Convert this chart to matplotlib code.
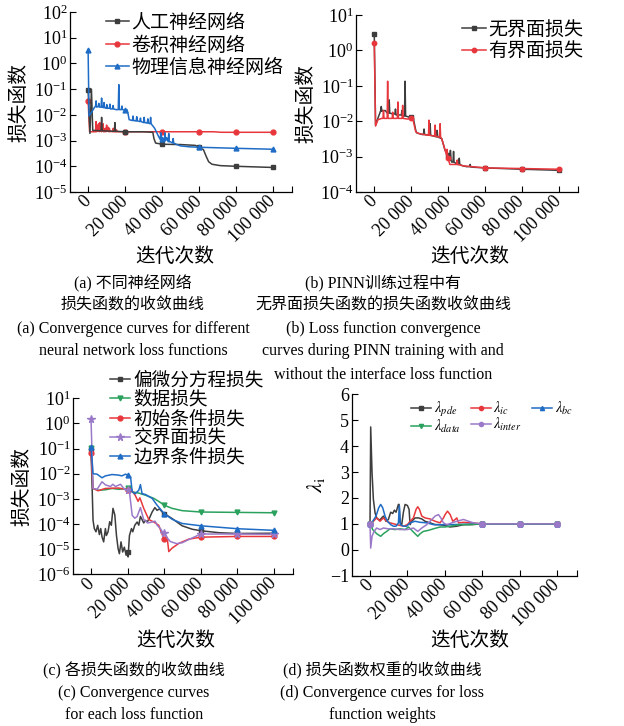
import matplotlib
matplotlib.use('Agg')
import matplotlib.pyplot as plt
from matplotlib.lines import Line2D
import matplotlib.ticker as mticker

plt.rcParams['font.family'] = ['Liberation Serif', 'Noto Sans CJK SC']
plt.rcParams['mathtext.fontset'] = 'stix'
plt.rcParams['axes.unicode_minus'] = True

# ---------------- data ----------------
x_ticks = [0, 20000, 40000, 60000, 80000, 100000]
x_ticklabels = ['0', '20 000', '40 000', '60 000', '80 000', '100 000']

# (a) different neural networks
a_ann_x = [0, 1000, 1800, 2500, 7000, 7300, 7600, 14200, 14500, 14800, 20000, 30000, 35000, 35600, 36500, 40000, 50000, 58000, 60000, 62400, 63900, 65200, 67000, 71500, 80000, 100000]
a_ann_y = [9e-2, 1.9e-3, 1.0e-1, 2.5e-3, 2.4e-3, 8e-3, 2.4e-3, 2.3e-3, 5e-3, 2.3e-3, 2.2e-3, 2.2e-3, 2.1e-3, 1.2e-3, 8e-4, 7.2e-4, 7.0e-4, 6.5e-4, 5.5e-4, 4.4e-4, 2.4e-4, 1.5e-4, 1.2e-4, 1.06e-4, 1.0e-4, 9.0e-5]
a_cnn_x = [0, 800, 4000, 4300, 4600, 5100, 5400, 5700, 6000, 6300, 6600, 6900, 7200, 7500, 7800, 8100, 8400, 8700, 9000, 9300, 9700, 10000, 10300, 10600, 10900, 11200, 11500, 11800, 12100, 13300, 13600, 13900, 15100, 15400, 15700, 20000, 40000, 60000, 68000, 72000, 80000, 100000]
a_cnn_y = [3.6e-2, 2.2e-3, 2.2e-3, 5.5e-3, 2.2e-3, 4.0e-3, 2.3e-3, 4.5e-3, 2.2e-3, 5.0e-3, 2.3e-3, 3.0e-3, 2.2e-3, 3.6e-3, 2.3e-3, 4.5e-3, 2.2e-3, 2.8e-3, 2.2e-3, 3.0e-3, 2.2e-3, 4.0e-3, 2.3e-3, 2.6e-3, 3.3e-3, 2.2e-3, 3.0e-3, 2.2e-3, 2.3e-3, 2.2e-3, 3.0e-3, 2.2e-3, 2.2e-3, 2.6e-3, 2.2e-3, 2.2e-3, 2.2e-3, 2.2e-3, 2.2e-3, 2.1e-3, 2.1e-3, 2.1e-3]
a_pinn_x = [0, 500, 2000, 3500, 4000, 4300, 4600, 5500, 5800, 6100, 7000, 7300, 7600, 8300, 8600, 8900, 9800, 10100, 10400, 11500, 11800, 12100, 13200, 13500, 13800, 15000, 16300, 16600, 16900, 18000, 18300, 18600, 20000, 21000, 21500, 22200, 24000, 24300, 24600, 26000, 26300, 26600, 28000, 28300, 28600, 30000, 30300, 30600, 32000, 32300, 32600, 33500, 33800, 34100, 36000, 38000, 39000, 39300, 39600, 40000, 41300, 41600, 41900, 42500, 43300, 43600, 43900, 44500, 45700, 46000, 46300, 48000, 50000, 55000, 60000, 80000, 100000]
a_pinn_y = [3.2, 9e-3, 1.3e-2, 2.0e-2, 2.1e-2, 3.5e-2, 2.0e-2, 2.1e-2, 2.8e-2, 2.0e-2, 2.0e-2, 4.5e-2, 2.0e-2, 1.9e-2, 3.0e-2, 1.9e-2, 1.8e-2, 2.5e-2, 1.8e-2, 1.8e-2, 2.6e-2, 1.7e-2, 1.7e-2, 2.3e-2, 1.7e-2, 1.6e-2, 1.6e-2, 1.5e-1, 1.6e-2, 1.6e-2, 2.2e-2, 1.6e-2, 1.5e-2, 1.6e-2, 1.2e-2, 6.5e-3, 6.0e-3, 9.0e-3, 6.0e-3, 5.8e-3, 8.5e-3, 5.8e-3, 5.5e-3, 7.5e-3, 5.5e-3, 5.0e-3, 8.0e-3, 5.0e-3, 4.8e-3, 7.0e-3, 4.8e-3, 4.5e-3, 8.0e-3, 4.5e-3, 3.0e-3, 1.5e-3, 1.1e-3, 2.0e-3, 1.1e-3, 1.2e-3, 1.0e-3, 2.0e-3, 1.0e-3, 1.3e-3, 9.0e-4, 1.9e-3, 9.0e-4, 9.0e-4, 8.0e-4, 1.2e-3, 8.0e-4, 7.0e-4, 6.2e-4, 5.7e-4, 5.5e-4, 5.0e-4, 4.6e-4]
a_labels = ['人工神经网络', '卷积神经网络', '物理信息神经网络']

# (b) with / without interface loss
b_no_x = [0, 700, 2200, 3500, 3800, 4100, 4400, 6000, 7000, 7800, 8100, 8400, 10000, 11200, 11500, 11800, 14000, 14700, 15000, 15300, 16400, 16700, 17000, 19000, 20000, 21200, 22500, 23000, 26000, 26700, 27000, 27300, 30000, 30300, 30600, 33000, 33800, 34100, 34400, 36600, 38400, 40000, 41000, 41300, 41600, 42000, 42700, 43000, 43300, 45000, 45800, 46100, 46400, 48000, 50000, 51700, 52000, 52300, 54000, 60000, 80000, 100000]
b_no_y = [2.9, 7.8e-3, 1.3e-2, 2.0e-2, 2.6e-2, 1.9e-2, 2.0e-2, 2.0e-2, 1.7e-2, 1.7e-2, 4.0e-2, 1.7e-2, 1.6e-2, 1.6e-2, 2.2e-2, 1.5e-2, 1.5e-2, 1.5e-2, 2.0e-2, 1.4e-2, 1.4e-2, 1.35e-1, 1.4e-2, 1.3e-2, 1.3e-2, 1.2e-2, 5.5e-3, 4.7e-3, 4.2e-3, 4.2e-3, 6.0e-3, 4.2e-3, 4.0e-3, 8.5e-3, 4.0e-3, 3.7e-3, 3.6e-3, 5.5e-3, 3.6e-3, 3.2e-3, 1.5e-3, 1.1e-3, 8.0e-4, 1.5e-3, 8.0e-4, 7.0e-4, 7.0e-4, 1.4e-3, 7.0e-4, 6.0e-4, 6.0e-4, 9.0e-4, 6.0e-4, 5.5e-4, 5.2e-4, 5.2e-4, 6.0e-4, 5.1e-4, 5.0e-4, 4.8e-4, 4.4e-4, 4.1e-4]
b_yes_x = [0, 700, 2000, 4000, 4700, 5000, 5300, 7000, 7250, 7500, 9000, 9700, 10000, 10300, 12500, 12800, 13100, 15100, 15400, 15700, 18000, 20000, 21000, 22500, 24000, 27000, 29400, 29700, 30000, 32700, 33000, 33300, 35400, 35700, 36000, 36500, 38000, 39200, 39500, 39800, 40000, 41000, 44000, 44700, 45000, 45300, 48000, 60000, 80000, 100000]
b_yes_y = [1.58, 7.3e-3, 1.1e-2, 1.2e-2, 1.2e-2, 2.0e-2, 1.2e-2, 1.2e-2, 1.35e-1, 1.2e-2, 1.2e-2, 1.2e-2, 1.8e-2, 1.2e-2, 1.2e-2, 3.5e-2, 1.2e-2, 1.2e-2, 2.8e-2, 1.2e-2, 1.15e-2, 1.2e-2, 1.1e-2, 5.0e-3, 4.5e-3, 4.2e-3, 4.0e-3, 1.07e-2, 4.0e-3, 3.8e-3, 7.8e-3, 3.8e-3, 3.5e-3, 8.5e-3, 3.5e-3, 3.3e-3, 1.8e-3, 1.1e-3, 1.6e-3, 1.0e-3, 9.0e-4, 6.0e-4, 6.0e-4, 6.0e-4, 8.0e-4, 6.0e-4, 5.5e-4, 4.8e-4, 4.6e-4, 4.4e-4]
b_labels = ['无界面损失', '有界面损失']

# (c) each loss term
c_pde_x = [0, 1100, 1800, 2700, 3650, 4560, 5300, 6000, 6900, 7850, 8400, 9300, 10200, 11100, 12000, 13000, 13900, 14800, 15500, 16400, 17300, 18200, 19200, 20000, 20250, 21000, 22100, 22800, 23900, 25200, 26100, 27000, 27900, 28800, 29700, 30700, 31900, 33400, 34900, 36100, 37400, 38900, 40000, 44300, 49800, 55300, 60000, 70000, 80000, 100000]
c_pde_y = [1.0e-1, 1.4e-4, 6.6e-5, 4.9e-5, 8.9e-5, 3.8e-5, 6.6e-5, 3.1e-5, 1.95e-5, 6.6e-5, 3.5e-5, 4.9e-5, 1.23e-4, 8.9e-5, 4.2e-4, 2.3e-4, 3.5e-5, 1.05e-5, 6.6e-6, 1.95e-5, 7.7e-6, 1.2e-5, 5.7e-6, 7.7e-6, 4.9e-6, 3.5e-5, 6.6e-5, 4.9e-5, 8.9e-5, 1.2e-4, 9.0e-5, 2.0e-4, 1.5e-4, 1.1e-4, 1.4e-4, 1.2e-4, 1.7e-4, 3.0e-4, 4.5e-4, 3.5e-4, 4.0e-4, 3.0e-4, 2.6e-4, 1.65e-4, 8.5e-5, 6.2e-5, 5.4e-5, 4.5e-5, 4.2e-5, 4.3e-5]
c_data_x = [0, 1100, 4200, 7850, 11500, 15100, 20000, 22500, 26100, 29700, 34300, 37900, 40000, 44300, 49800, 60000, 80000, 100000]
c_data_y = [1.1e-1, 2.6e-3, 2.2e-3, 2.3e-3, 2.6e-3, 2.4e-3, 2.6e-3, 1.9e-3, 1.7e-3, 1.4e-3, 1.05e-3, 7.2e-4, 5.6e-4, 4.2e-4, 3.4e-4, 3.0e-4, 2.9e-4, 2.8e-4]
c_ic_x = [0, 1100, 3850, 7850, 15100, 20000, 22800, 24100, 25700, 26700, 28800, 31600, 34300, 37000, 38900, 40000, 41600, 42500, 44300, 48000, 53400, 60000, 80000, 100000]
c_ic_y = [6.5e-2, 2.6e-3, 2.1e-3, 2.6e-3, 2.7e-3, 2.3e-3, 1.9e-3, 1.4e-3, 8.0e-4, 1.1e-3, 4.2e-4, 1.5e-4, 1.2e-4, 8.9e-5, 3.8e-5, 2.5e-5, 3.0e-5, 8.0e-6, 1.1e-5, 1.7e-5, 2.5e-5, 3.0e-5, 3.2e-5, 3.2e-5]
c_inter_x = [0, 1100, 3300, 6000, 7850, 10600, 11900, 13400, 16100, 17900, 20000, 21000, 22500, 23900, 25200, 26100, 27000, 28800, 31000, 33400, 35000, 36100, 37900, 38900, 40000, 41600, 43400, 46800, 49800, 54400, 60000, 80000, 100000]
c_inter_y = [1.45, 2.6e-3, 2.4e-3, 4.8e-3, 3.6e-3, 3.1e-3, 3.8e-3, 3.1e-3, 3.8e-3, 2.6e-3, 2.2e-3, 1.9e-3, 2.2e-4, 1.7e-4, 2.0e-4, 3.0e-4, 4.5e-4, 1.5e-4, 1.1e-4, 1.2e-4, 1.3e-4, 9.0e-5, 6.6e-5, 5.0e-5, 4.2e-5, 2.8e-5, 2.0e-5, 1.66e-5, 1.8e-5, 2.6e-5, 4.0e-5, 4.0e-5, 3.9e-5]
c_bc_x = [0, 1100, 3300, 6000, 7850, 11500, 15100, 16900, 18800, 20000, 21600, 22500, 24100, 26100, 27000, 27900, 29700, 33400, 36100, 40000, 44300, 49800, 60000, 80000, 100000]
c_bc_y = [1.15e-1, 1.0e-2, 9.6e-3, 6.9e-3, 8.2e-3, 9.3e-3, 8.8e-3, 8.2e-3, 9.6e-3, 8.8e-3, 7.5e-3, 1.9e-3, 1.6e-3, 2.2e-3, 3.7e-3, 1.6e-3, 1.5e-3, 1.05e-3, 5.6e-4, 2.6e-4, 1.55e-4, 1.05e-4, 8.5e-5, 6.5e-5, 5.6e-5]
c_labels = ['偏微分方程损失', '数据损失', '初始条件损失', '交界面损失', '边界条件损失']

# (d) loss weights
d_pde_x = [0, 360, 1070, 1790, 2680, 3570, 5000, 6250, 7140, 8570, 9820, 11070, 12140, 13040, 13930, 15180, 15540, 16070, 16960, 17860, 18750, 20000, 20890, 21430, 22320, 24110, 25890, 27680, 29460, 32140, 34820, 36610, 40180, 42860, 46430, 50000, 53570, 60000, 80000, 100000]
d_pde_y = [1.0, 4.74, 2.99, 1.95, 1.43, 1.23, 1.14, 1.23, 1.30, 1.10, 1.17, 1.45, 1.40, 1.53, 1.45, 1.75, 1.75, 1.04, 0.97, 1.45, 1.75, 1.71, 1.56, 0.97, 1.10, 1.23, 1.23, 1.19, 1.10, 1.04, 0.97, 0.97, 0.94, 0.88, 0.91, 0.97, 0.97, 1.0, 1.0, 1.0]
d_ic_x = [0, 1790, 3570, 5360, 7140, 8930, 10710, 14290, 17860, 20000, 21430, 23210, 24640, 25540, 26430, 27680, 29460, 32140, 34820, 37500, 39290, 40180, 41430, 42860, 44290, 45540, 46430, 47320, 50000, 53570, 60000, 80000, 100000]
d_ic_y = [1.0, 1.10, 1.23, 1.10, 1.23, 1.10, 1.04, 0.97, 0.91, 0.97, 1.10, 1.23, 1.56, 1.66, 1.56, 1.30, 1.23, 1.19, 1.10, 1.04, 1.23, 1.36, 1.49, 1.36, 1.10, 1.17, 1.23, 1.04, 1.06, 1.04, 1.0, 1.0, 1.0]
d_bc_x = [0, 1430, 3210, 4640, 5710, 6790, 8040, 9290, 11070, 12500, 13930, 15180, 15710, 16250, 17860, 19640, 21430, 24110, 26790, 30360, 33930, 37500, 42860, 60000, 80000, 100000]
d_bc_y = [1.0, 1.10, 1.30, 1.62, 1.75, 1.62, 1.30, 1.10, 0.97, 0.91, 0.91, 1.04, 1.70, 0.97, 0.91, 0.91, 1.04, 1.10, 1.06, 1.04, 0.97, 0.97, 0.97, 1.0, 1.0, 1.0]
d_data_x = [0, 1430, 3570, 5710, 7140, 8930, 10710, 13390, 16070, 18750, 20540, 22320, 24110, 25540, 26790, 28570, 31250, 33930, 37500, 40180, 42860, 48210, 53570, 60000, 80000, 100000]
d_data_y = [1.0, 0.78, 0.62, 0.52, 0.62, 0.71, 0.81, 0.78, 0.81, 0.78, 0.88, 0.75, 0.62, 0.52, 0.62, 0.71, 0.75, 0.81, 0.88, 0.88, 0.91, 0.97, 0.97, 1.0, 1.0, 1.0]
d_inter_x = [0, 360, 1070, 2140, 3570, 5360, 7140, 9820, 12500, 16070, 20000, 23210, 25540, 27680, 30360, 33040, 34820, 36610, 37860, 39290, 41070, 43750, 46430, 50000, 52680, 55360, 60000, 80000, 100000]
d_inter_y = [1.0, 0.065, 0.52, 0.71, 0.84, 0.78, 0.84, 0.81, 0.81, 0.78, 0.78, 0.84, 0.71, 0.84, 0.97, 1.17, 1.30, 1.36, 1.23, 1.04, 0.97, 1.04, 1.10, 1.17, 1.10, 1.04, 1.0, 1.0, 1.0]
d_yticks = [-1, 0, 1, 2, 3, 4, 5, 6]

# ---------------- style ----------------
BLACK = '#3d3d3d'
RED = '#e8373c'
BLUE = '#1f6cc6'
GREEN = '#2aa15d'
PURPLE = '#9b79c9'
LW = 1.1
MS = 3.5

W, H = 624, 726
fig = plt.figure(figsize=(W / 100, H / 100), dpi=100)


def rect(l, t, r, b):
    return [l / W, 1 - b / H, (r - l) / W, (b - t) / H]


def fxy(x, y):
    return (x / W, 1 - y / H)


XLIM = (-9800, 110500)


def style(ax):
    for s in ['top', 'right']:
        ax.spines[s].set_visible(False)
    for s in ['left', 'bottom']:
        ax.spines[s].set_linewidth(0.9)
    ax.set_xlim(*XLIM)
    ax.set_xticks(x_ticks)
    ax.set_xticklabels(x_ticklabels, rotation=45, ha='right', va='center',
                       rotation_mode='anchor')
    ax.xaxis.set_minor_locator(mticker.FixedLocator([XLIM[1]]))
    ax.tick_params(axis='both', which='both', direction='in', length=4,
                   width=0.8, labelsize=13)
    ax.tick_params(axis='x', which='major', pad=5)
    ax.tick_params(axis='y', which='major', pad=2)
    ax.tick_params(axis='y', which='minor', length=0)


def series(ax, xs, ys, color, marker, ms=MS, mk=x_ticks, z=2):
    ax.plot(xs, ys, color=color, lw=LW, zorder=z)
    mx = [x for x in xs if x in mk]
    my = [y for x, y in zip(xs, ys) if x in mk]
    ax.plot(mx, my, ls='none', marker=marker, ms=ms, color=color, zorder=z + 0.5)


def handle(color, marker, ms=MS):
    return Line2D([], [], color=color, lw=LW, marker=marker, ms=ms)


def logy(ax, lo, hi):
    ax.set_yscale('log')
    ax.set_ylim(lo, hi)
    ax.yaxis.set_major_locator(mticker.LogLocator(base=10, numticks=20))
    ax.yaxis.set_minor_locator(mticker.NullLocator())


CJK = 14.2

# ---- (a)
axa = fig.add_axes(rect(70, 12, 292.4, 192))
series(axa, a_ann_x, a_ann_y, BLACK, 's', z=3)
series(axa, a_cnn_x, a_cnn_y, RED, 'o', z=2)
series(axa, a_pinn_x, a_pinn_y, BLUE, '^', z=4)
style(axa)
logy(axa, 1e-5, 1e2)
axa.set_ylabel('损失函数', fontsize=CJK, labelpad=3)
axa.legend([handle(BLACK, 's'), handle(RED, 'o'), handle(BLUE, '^')], a_labels,
           loc='upper left', bbox_to_anchor=fxy(106, 14), bbox_transform=fig.transFigure,
           frameon=False, fontsize=13.7, handlelength=1.2, handletextpad=0.15,
           labelspacing=0.22, borderpad=0, borderaxespad=0)

# ---- (b)
axb = fig.add_axes(rect(356.2, 15, 578, 192))
series(axb, b_no_x, b_no_y, BLACK, 's', z=2)
series(axb, b_yes_x, b_yes_y, RED, 'o', ms=3.2, z=3)
style(axb)
logy(axb, 1e-4, 1e1)
axb.set_ylabel('损失函数', fontsize=CJK, labelpad=3)
axb.legend([handle(BLACK, 's'), handle(RED, 'o', 3.2)], b_labels,
           loc='upper left', bbox_to_anchor=fxy(462, 21), bbox_transform=fig.transFigure,
           frameon=False, fontsize=13.7, handlelength=1.25, handletextpad=0.15,
           labelspacing=0.17, borderpad=0, borderaxespad=0)

# ---- (c)
axc = fig.add_axes(rect(73.1, 398.3, 293.2, 574.3))
series(axc, c_pde_x, c_pde_y, BLACK, 's', ms=2.8, z=2)
series(axc, c_data_x, c_data_y, GREEN, 'v', z=3)
series(axc, c_ic_x, c_ic_y, RED, 'o', z=4)
series(axc, c_inter_x, c_inter_y, PURPLE, '*', ms=5.5, z=5)
series(axc, c_bc_x, c_bc_y, BLUE, '^', z=6)
style(axc)
logy(axc, 1e-6, 1e1)
axc.set_ylabel('损失函数', fontsize=CJK, labelpad=3)
axc.legend([handle(BLACK, 's', 2.8), handle(GREEN, 'v'), handle(RED, 'o'),
            handle(PURPLE, '*', 5.5), handle(BLUE, '^')], c_labels,
           loc='upper left', bbox_to_anchor=fxy(110, 372), bbox_transform=fig.transFigure,
           frameon=False, fontsize=13.4, handlelength=1.1, handletextpad=0.15,
           labelspacing=0.1, borderpad=0, borderaxespad=0)

# ---- (d)
axd = fig.add_axes(rect(351.7, 394.3, 576.6, 575.7))
mk_d = [0, 60000, 80000, 100000]
series(axd, d_pde_x, d_pde_y, BLACK, 's', mk=mk_d, z=2)
series(axd, d_ic_x, d_ic_y, RED, 'o', mk=mk_d, z=3)
series(axd, d_bc_x, d_bc_y, BLUE, '^', mk=mk_d, z=4)
series(axd, d_data_x, d_data_y, GREEN, 'v', mk=mk_d, z=5)
series(axd, d_inter_x, d_inter_y, PURPLE, 'o', ms=4, mk=mk_d, z=6)
style(axd)
axd.set_ylim(-1, 6)
axd.set_yticks(d_yticks)
axd.set_ylabel(r'$\lambda_{\mathrm{i}}$', fontsize=16, labelpad=2)
d_handles = [handle(BLACK, 's', 3), handle(GREEN, 'v', 3), handle(RED, 'o', 3),
             handle(PURPLE, 'o', 3), handle(BLUE, '^', 3)]
d_labels = [r'$\lambda_{pde}$', r'$\lambda_{data}$', r'$\lambda_{ic}$',
            r'$\lambda_{inter}$', r'$\lambda_{bc}$']
axd.legend(d_handles, d_labels, ncol=3, loc='upper left',
           bbox_to_anchor=fxy(411, 400), bbox_transform=fig.transFigure,
           frameon=False, fontsize=10.5, handlelength=1.4, handletextpad=0.15,
           labelspacing=-0.1, columnspacing=0.7, borderpad=0, borderaxespad=0)

# ---- x labels and captions
CAP = 11.5
for cx, cy in [(175, 257), (470, 257), (176, 641), (470, 641)]:
    fig.text(*fxy(cx, cy), '迭代次数', fontsize=CJK, ha='center', va='center')

cap_a = ['(a) 不同神经网络', '损失函数的收敛曲线',
         '(a) Convergence curves for different', 'neural network loss functions']
cap_b = ['(b) PINN训练过程中有', '无界面损失函数的损失函数收敛曲线',
         '(b) Loss function convergence', 'curves during PINN training with and',
         'without the interface loss function']
cap_c = ['(c) 各损失函数的收敛曲线', '(c) Convergence curves', 'for each loss function']
cap_d = ['(d) 损失函数权重的收敛曲线', '(d) Convergence curves for loss', 'function weights']

for lines, cx, ys in [(cap_a, 133, [284, 306, 329, 351]),
                      (cap_b, 383, [284, 306, 329, 351, 375]),
                      (cap_c, 134, [671, 693, 715]),
                      (cap_d, 382, [671, 693, 715])]:
    for t, cy in zip(lines, ys):
        fig.text(*fxy(cx, cy), t, fontsize=CAP, ha='center', va='center')

fig.savefig('out.png', dpi=100)
